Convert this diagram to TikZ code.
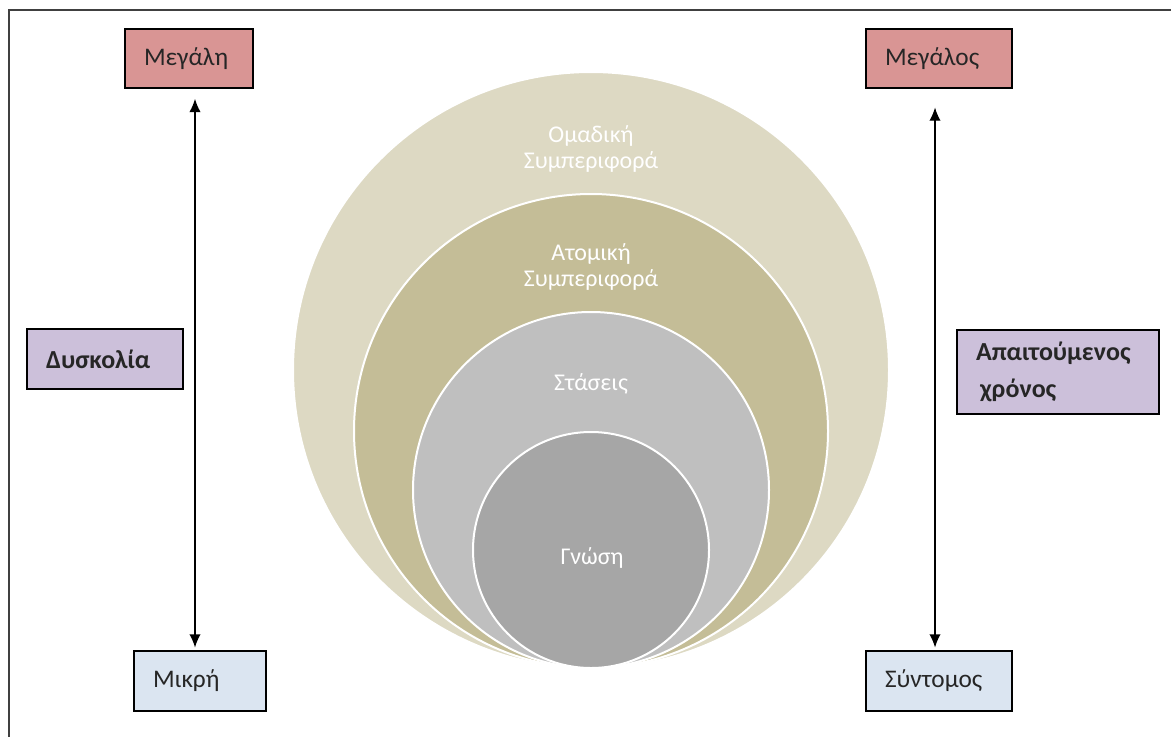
\documentclass[tikz,border=0pt]{standalone}
\usepackage{fontspec}
\setmainfont{Carlito}
\usetikzlibrary{arrows.meta,positioning}

\definecolor{ringgroup}{HTML}{DDD9C3}
\definecolor{ringself}{HTML}{C4BD97}
\definecolor{ringattitude}{HTML}{BFBFBF}
\definecolor{ringknow}{HTML}{A6A6A6}
\definecolor{boxhigh}{HTML}{D99594}
\definecolor{boxaxis}{HTML}{CCC0DA}
\definecolor{boxlow}{HTML}{DBE5F1}
\definecolor{framegray}{HTML}{404040}

\begin{document}
\begin{tikzpicture}
    [
      x=0.75pt,y=-0.75pt,
      box/.style={draw=black,line width=1.1pt,inner xsep=14.25pt,inner ysep=0pt,
        text width=#1,align=left,font=\fontsize{19}{22}\selectfont,text=black!85},
      high/.style={box=#1,fill=boxhigh,minimum height=44.25pt},
      low/.style={box=#1,fill=boxlow,minimum height=45pt},
      axis/.style={box=#1,fill=boxaxis,minimum height=45pt,font=\fontsize{19.5}{22}\selectfont\bfseries},
      ring/.style={draw=white,line width=1.5pt},
      ringtext/.style={text=white,align=center,font=\fontsize{18}{19}\selectfont},
      updown/.style={{Latex[length=10pt,width=8.5pt]}-{Latex[length=10pt,width=8.5pt]},line width=1.1pt},
    ]

    \useasboundingbox (0,0) rectangle (1171,736);
    \clip (0,0) rectangle (1171,736);
    \draw [framegray,line width=1.5pt] (9,10) rectangle (1200,760);

    % nested circles, all touching at the bottom
    \draw [ring,fill=ringgroup] (591,370) circle (298);
    \draw [ring,fill=ringself] (591,431) circle (237);
    \draw [ring,fill=ringattitude] (591,490) circle (178);
    \draw [ring,fill=ringknow] (591,550) circle (118);

    \node (t-group) [ringtext] at (591,149) {Ομαδική\\Συμπεριφορά};
    \node (t-self) [ringtext] at (591,267) {Ατομική\\Συμπεριφορά};
    \node (t-attitude) [ringtext] at (591,384) {Στάσεις};
    \node (t-know) [ringtext] at (592,558) {Γνώση};

    % difficulty axis
    \node (megali) [high=67.5pt] at (189,58.5) {Μεγάλη};
    \node (dyskolia) [axis=88.5pt] at (105,359) {Δυσκολία};
    \node (mikri) [low=70.5pt] at (200,681) {Μικρή};

    % time axis
    \node (megalos) [high=81pt] at (939,58.5) {Μεγάλος};
    \node (xronos) [axis=123pt,minimum height=63pt] at (1058,372)
      {Απαιτούμενος\\[6pt]\hspace*{3pt}χρόνος};
    \node (syntomos) [low=81pt] at (939,681) {Σύντομος};

    \draw [updown,shorten <=7.5pt,shorten >=2pt]
      ([xshift=4.5pt]megali.south) -- ([xshift=-3.75pt]mikri.north);
    \draw [updown,shorten <=14pt,shorten >=2pt]
      ([xshift=-3pt]megalos.south) -- ([xshift=-3pt]syntomos.north);

  \end{tikzpicture}
\end{document}
